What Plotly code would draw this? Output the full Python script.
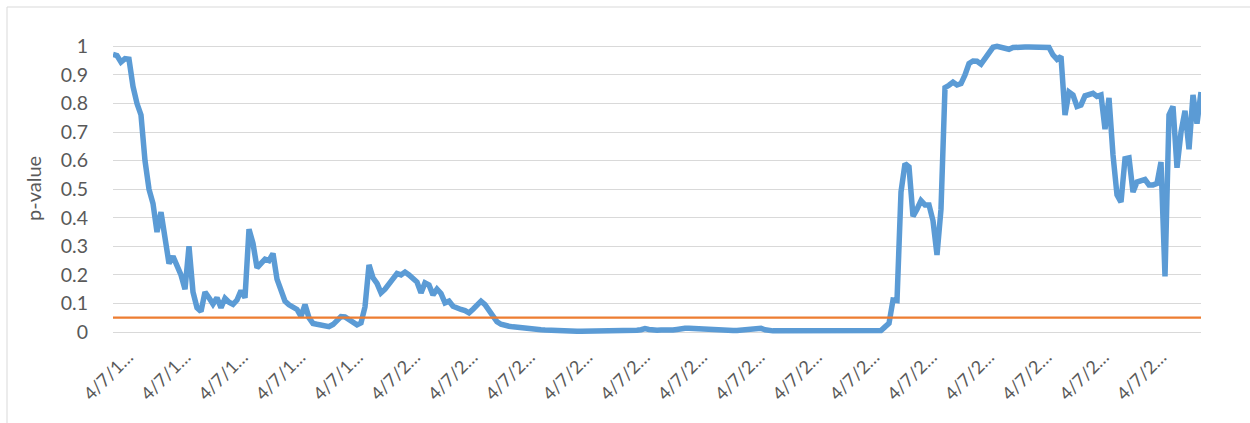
import plotly.graph_objects as go

# p-value, one sample per ~4 px along the x axis
p_values = [
    0.972, 0.968, 0.945, 0.957, 0.955, 0.86, 0.80, 0.76, 0.60, 0.50,
    0.45, 0.35, 0.42, 0.33, 0.24, 0.265, 0.23, 0.20, 0.15, 0.30,
    0.14, 0.085, 0.072, 0.14, 0.12, 0.098, 0.12, 0.085, 0.118, 0.104,
    0.097, 0.112, 0.145, 0.12, 0.36, 0.31, 0.225, 0.24, 0.255, 0.25,
    0.275, 0.185, 0.15, 0.108, 0.095, 0.085, 0.079, 0.055, 0.096, 0.05,
    0.03, 0.027, 0.024, 0.018, 0.019, 0.026, 0.037, 0.054, 0.053, 0.045,
    0.035, 0.025, 0.032, 0.088, 0.235, 0.19, 0.17, 0.137, 0.15, 0.17,
    0.19, 0.205, 0.20, 0.21, 0.20, 0.187, 0.175, 0.137, 0.172, 0.165,
    0.13, 0.15, 0.135, 0.102, 0.108, 0.09, 0.082, 0.079, 0.075, 0.067,
    0.08, 0.097, 0.108, 0.096, 0.075, 0.05, 0.036, 0.027, 0.022, 0.02,
    0.018, 0.016, 0.014, 0.013, 0.011, 0.009, 0.008, 0.008, 0.007, 0.006,
    0.005, 0.005, 0.004, 0.004, 0.004, 0.003, 0.003, 0.003, 0.003, 0.003,
    0.004, 0.004, 0.003, 0.003, 0.003, 0.004, 0.004, 0.004, 0.004, 0.005,
    0.005, 0.006, 0.008, 0.012, 0.009, 0.006, 0.006, 0.007, 0.006, 0.006,
    0.007, 0.009, 0.012, 0.013, 0.013, 0.012, 0.013, 0.01, 0.008, 0.007,
    0.007, 0.006, 0.006, 0.006, 0.005, 0.005, 0.005, 0.006, 0.006, 0.007,
    0.009, 0.011, 0.013, 0.008, 0.005, 0.004, 0.004, 0.004, 0.003, 0.003,
    0.003, 0.003, 0.003, 0.003, 0.003, 0.003, 0.003, 0.003, 0.003, 0.003,
    0.003, 0.003, 0.003, 0.003, 0.003, 0.003, 0.003, 0.003, 0.003, 0.003,
    0.003, 0.004, 0.005, 0.018, 0.03, 0.112, 0.11, 0.49, 0.59, 0.578,
    0.405, 0.43, 0.46, 0.445, 0.445, 0.39, 0.27, 0.43, 0.856, 0.864,
    0.875, 0.865, 0.87, 0.90, 0.94, 0.949, 0.948, 0.938, 0.96, 0.98,
    0.997, 1.0, 0.997, 0.99, 0.99, 0.996, 0.998, 0.998, 0.998, 0.998,
    0.998, 0.998, 0.998, 0.998, 0.996, 0.97, 0.955, 0.965, 0.76, 0.84,
    0.83, 0.79, 0.795, 0.827, 0.833, 0.836, 0.825, 0.83, 0.71, 0.82,
    0.62, 0.48, 0.455, 0.607, 0.61, 0.49, 0.525, 0.531, 0.534, 0.515,
    0.515, 0.52, 0.595, 0.195, 0.76, 0.79, 0.575, 0.70, 0.775, 0.64,
    0.83, 0.73, 0.84,
]
alpha = 0.05  # significance level (orange line)

tick_text = [
    "4/7/1…", "4/7/1…", "4/7/1…", "4/7/1…", "4/7/1…",
    "4/7/2…", "4/7/2…", "4/7/2…", "4/7/2…", "4/7/2…", "4/7/2…", "4/7/2…",
    "4/7/2…", "4/7/2…", "4/7/2…", "4/7/2…", "4/7/2…", "4/7/2…", "4/7/2…",
]

n = len(p_values)
x = list(range(n))
step = 14.35
tick_vals = [3.75 + i * step for i in range(len(tick_text))]

W, H = 1250, 423
ML, MR, MT, MB = 113, 49, 43, 88
pw, ph = W - ML - MR, H - MT - MB

grey = "#595959"
font = "Lato, 'Noto Sans', sans-serif"

fig = go.Figure()
fig.add_trace(go.Scatter(x=x, y=p_values, mode="lines",
                         line=dict(color="#5B9BD5", width=5.5), hoverinfo="skip"))
fig.add_trace(go.Scatter(x=[x[0], x[-1]], y=[alpha, alpha], mode="lines",
                         line=dict(color="#ED7D31", width=2.2), hoverinfo="skip"))

fig.update_layout(
    width=W, height=H,
    margin=dict(l=ML, r=MR, t=MT, b=MB),
    paper_bgcolor="white", plot_bgcolor="white",
    showlegend=False,
    font=dict(family=font, size=18, color=grey),
)
fig.update_xaxes(
    range=[0, n - 1],
    tickmode="array", tickvals=tick_vals, ticktext=tick_text,
    tickangle=-45, tickfont=dict(size=18, color=grey),
    showgrid=False, zeroline=False, showline=False, ticks="",
    ticklabelstandoff=7,
)
fig.update_yaxes(
    range=[-0.0105, 1.012],
    tick0=0, dtick=0.1, tickformat="~g",
    showgrid=True, gridcolor="#D9D9D9", gridwidth=1,
    zeroline=False, showline=False, ticks="",
    ticklabelstandoff=24,
    tickfont=dict(size=19.5, color=grey),
)

# y axis title
fig.add_annotation(text="p-value", xref="paper", yref="paper",
                   x=(33 - ML) / pw, y=0.5, textangle=-90, showarrow=False,
                   font=dict(size=20, color=grey), xanchor="center", yanchor="middle")

# light chart border (extends past the right/bottom edge as in the reference)
fig.add_shape(type="rect", xref="paper", yref="paper",
              x0=(7 - ML) / pw, x1=(W + 10 - ML) / pw,
              y0=(H - MB - (H + 10)) / ph, y1=(H - MB - 7) / ph,
              line=dict(color="#D9D9D9", width=1), fillcolor="rgba(0,0,0,0)", layer="below")

fig.write_html("out.html", config={"displayModeBar": False},
               post_script="document.body.style.margin='0';document.body.style.overflow='hidden';")
